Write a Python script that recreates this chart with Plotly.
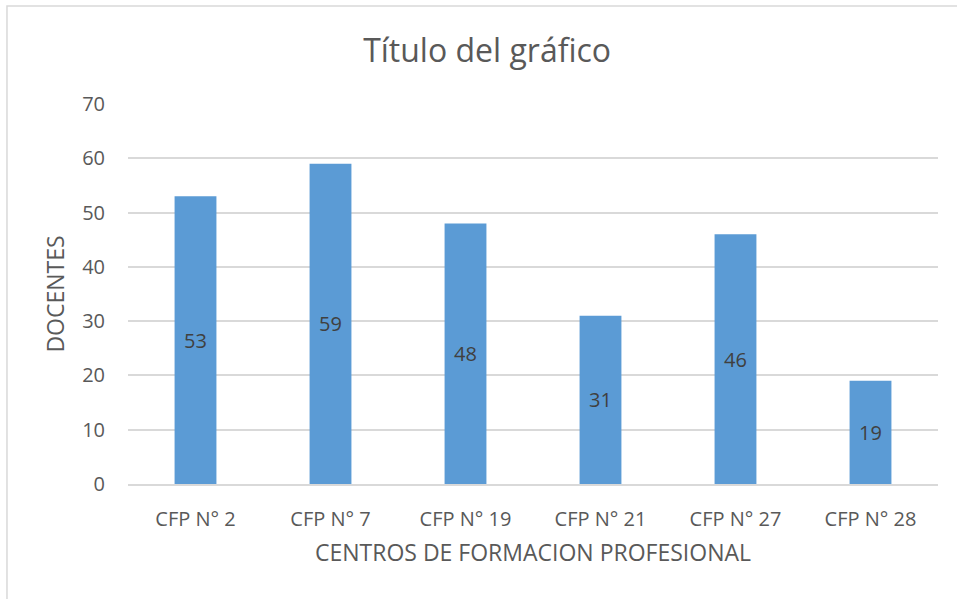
import plotly.graph_objects as go

centros = ['CFP N° 2', 'CFP N° 7', 'CFP N° 19', 'CFP N° 21', 'CFP N° 27', 'CFP N° 28']
docentes = [53, 59, 48, 31, 46, 19]

FONT = 'Open Sans'
GRAY = '#595959'

fig = go.Figure()
fig.add_trace(go.Bar(
    x=centros, y=docentes,
    marker=dict(color='#5b9bd5', line=dict(width=0)),
    text=docentes,
    textposition='inside',
    insidetextanchor='middle',
    textfont=dict(color='#404040', size=20, family=FONT),
))

# chart area border (Excel style)
fig.add_shape(type='rect', xref='paper', yref='paper',
              x0=-0.1494, x1=1.2, y0=-0.5, y1=1.2579,
              line=dict(color='#d9d9d9', width=1.5), layer='below')

fig.update_layout(
    width=957, height=599,
    margin=dict(l=128, r=19, t=104, b=115),
    plot_bgcolor='white', paper_bgcolor='white',
    font=dict(family=FONT, color=GRAY, size=20),
    title=dict(text='Título del gráfico', x=0.509, xanchor='center',
               y=0.915, yanchor='middle', font=dict(size=32, color=GRAY, family=FONT)),
    bargap=0.69,
    showlegend=False,
    uniformtext=dict(mode=False),
    xaxis=dict(
        title=dict(text='CENTROS DE FORMACION PROFESIONAL', standoff=14,
                   font=dict(size=23, color=GRAY)),
        showgrid=False, ticks='', ticklabelstandoff=16,
        showline=True, linecolor='#d9d9d9', linewidth=1.5,
        tickfont=dict(size=20, color=GRAY),
    ),
    yaxis=dict(
        title=dict(text='DOCENTES', standoff=11, font=dict(size=23, color=GRAY)),
        range=[0, 70], dtick=10,
        gridcolor='#d9d9d9', gridwidth=1.5, zeroline=False,
        ticks='', ticklabelstandoff=22,
        tickfont=dict(size=20, color=GRAY),
    ),
)

fig.write_html('out.html', config={'displayModeBar': False},
               post_script="document.body.style.margin='0';")
